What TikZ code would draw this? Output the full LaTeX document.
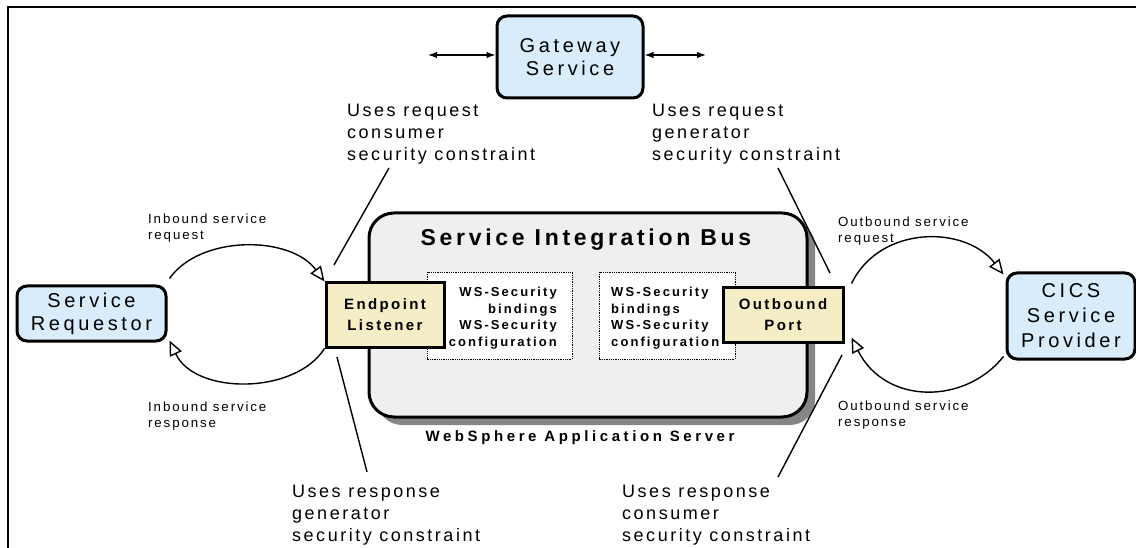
\documentclass[tikz,border=0pt]{standalone}
\usepackage{fontspec}
\setmainfont{Liberation Sans}
\newfontfamily\labfont{Liberation Sans}[LetterSpace=14]
\newfontfamily\svcfont{Liberation Sans}[LetterSpace=18]
\newfontfamily\boldfont{Liberation Sans}[LetterSpace=16]
\newfontfamily\wasfont{Liberation Sans}[LetterSpace=24]
\usetikzlibrary{arrows.meta}
\definecolor{svcblue}{HTML}{D8ECFB}
\definecolor{beige}{HTML}{F4EDC6}
\definecolor{sibgray}{HTML}{EFEFEF}
\definecolor{shadowgray}{HTML}{858585}
\begin{document}
\begin{tikzpicture}[x=1pt,y=-1pt,
  svc/.style={draw,line width=3,rounded corners=10,fill=svcblue,align=center,inner sep=0,
    font=\svcfont\fontsize{20}{23}\selectfont},
  comp/.style={draw,line width=3,fill=beige,align=center,inner sep=0,
    font=\boldfont\bfseries\fontsize{15}{21}\selectfont},
  biglab/.style={anchor=north west,inner sep=0,align=left,font=\labfont\fontsize{18}{22}\selectfont},
  smalllab/.style={anchor=north west,inner sep=0,align=left,font=\labfont\fontsize{13.3}{16}\selectfont},
  wstext/.style={inner sep=0,font=\boldfont\bfseries\fontsize{13}{16.5}\selectfont},
  flow/.style={line width=1.4,-{Triangle[open,fill=white,length=15,width=13,line width=1.4]}},
  tie/.style={line width=1.4},
  gw/.style={line width=1.3,{Latex[length=9,width=6.5]}-{Latex[length=9,width=6.5]}}
]
\useasboundingbox (0,0) rectangle (1136,548);
% frame
\draw[line width=2] (8,548) -- (8,7) -- (1136,7);

% SIB shadow and box
\fill[shadowgray,rounded corners=25] (377,221) rectangle (815,425);
\draw[line width=3,fill=sibgray,rounded corners=25] (369,213) rectangle (807,417);
\node[inner sep=0,font=\boldfont\bfseries\fontsize{23}{26}\selectfont] (sib) at (586,240) {Service Integration Bus};
\node[inner sep=0,font=\wasfont\bfseries\fontsize{15}{18}\selectfont] (was) at (580,438) {WebSphere Application Server};

% dotted boxes
\draw[densely dotted,line width=0.8,fill=white] (427,272) rectangle (572,359);
\draw[densely dotted,line width=0.8,fill=white] (599,272) rectangle (735,359);
\node[wstext,anchor=east,align=right] (ws1) at (557,318) {WS-Security\\bindings\\WS-Security\\configuration};
\node[wstext,anchor=west,align=left] (ws2) at (611,318) {WS-Security\\bindings\\WS-Security\\configuration};

% components
\node[comp,minimum width=118,minimum height=64] (ep) at (385,315) {Endpoint\\Listener};
\node[comp,minimum width=120,minimum height=54] (op) at (783,315) {Outbound\\Port};

% services
\node[svc,minimum width=146,minimum height=82] (gw) at (570,57) {Gateway\\Service};
\node[svc,minimum width=149,minimum height=55] (req) at (91.5,313.5) {Service\\Requestor};
\node[svc,minimum width=128,minimum height=86,font=\svcfont\fontsize{20}{25}\selectfont] (cics) at (1071,316) {CICS\\Service\\Provider};

% gateway arrows
\coordinate (gl) at (428,55);
\coordinate (gr) at (706,55);
\draw[gw] (gl) -- (gw.west|-gl);
\draw[gw] (gw.east|-gr) -- (gr);

% flows
\draw[flow] (req.north east) ++(2,-6) .. controls (200,235) and (290,235) .. (ep.north west);
\draw[flow] (ep.south west) .. controls (295,395) and (195,395) .. ([xshift=2pt,yshift=2pt]req.south east);
\draw[flow] (op.north east) ++(7,-3) .. controls (880,225) and (965,225) .. ([xshift=-2pt,yshift=-3pt]cics.north west);
\draw[flow] ([xshift=-2pt,yshift=4pt]cics.south west) .. controls (965,405) and (885,405) .. ([xshift=7pt,yshift=6pt]op.south east);

% labels
\node[biglab] (l1) at (347,104) {Uses request\\consumer\\security constraint};
\node[biglab] (l2) at (652,104) {Uses request\\generator\\security constraint};
\node[biglab] (l3) at (292,485) {Uses response\\generator\\security constraint};
\node[biglab] (l4) at (622,485) {Uses response\\consumer\\security constraint};
\node[smalllab] (s1) at (148,214) {Inbound service\\request};
\node[smalllab] (s2) at (148,402) {Inbound service\\response};
\node[smalllab] (s3) at (838,217) {Outbound service\\request};
\node[smalllab] (s4) at (838,401) {Outbound service\\response};

% tie lines
\coordinate (t1a) at (389,168); \coordinate (t1b) at (334,265);
\coordinate (t2a) at (778,168); \coordinate (t2b) at (830,273);
\coordinate (t3a) at (337,357); \coordinate (t3b) at (367,472);
\coordinate (t4a) at (842,355); \coordinate (t4b) at (778,477);
\draw[tie] (t1a) -- (t1b);
\draw[tie] (t2a) -- (t2b);
\draw[tie] (t3a) -- (t3b);
\draw[tie] (t4a) -- (t4b);
\end{tikzpicture}
\end{document}
